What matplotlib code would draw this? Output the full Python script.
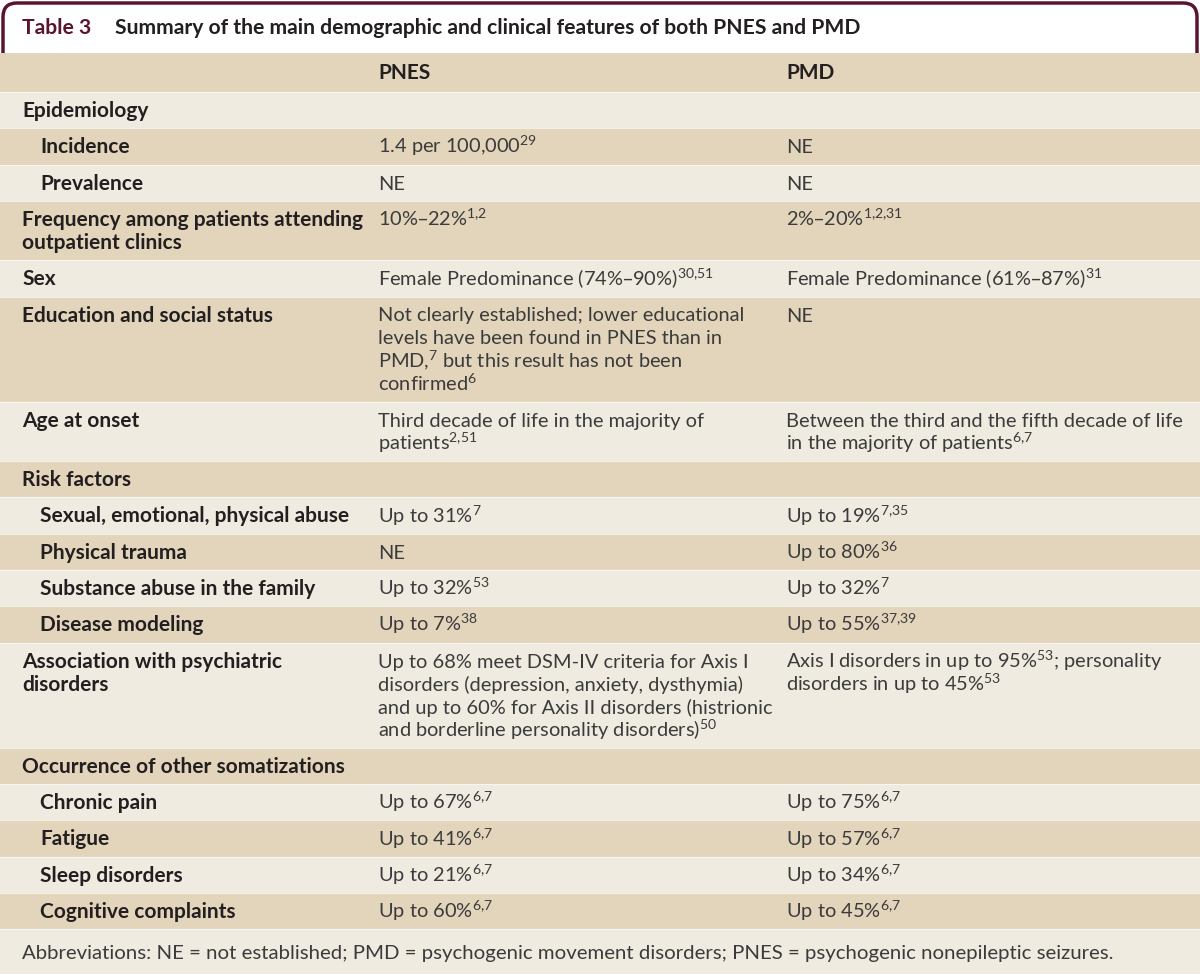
import matplotlib
matplotlib.use('Agg')
import matplotlib.pyplot as plt
from matplotlib.patches import Rectangle, FancyBboxPatch

plt.rcParams['font.family'] = ['Lato', 'DejaVu Sans']
plt.rcParams['mathtext.default'] = 'regular'

# table content
table_no = 'Table 3'
title = 'Summary of the main demographic and clinical features of both PNES and PMD'
col_heads = ['PNES', 'PMD']

labels = [
    ['Epidemiology'],
    ['Incidence'],
    ['Prevalence'],
    ['Frequency among patients attending', 'outpatient clinics'],
    ['Sex'],
    ['Education and social status'],
    ['Age at onset'],
    ['Risk factors'],
    ['Sexual, emotional, physical abuse'],
    ['Physical trauma'],
    ['Substance abuse in the family'],
    ['Disease modeling'],
    ['Association with psychiatric', 'disorders'],
    ['Occurrence of other somatizations'],
    ['Chronic pain'],
    ['Fatigue'],
    ['Sleep disorders'],
    ['Cognitive complaints'],
]
sub_row = [0, 1, 1, 0, 0, 0, 0, 0, 1, 1, 1, 1, 0, 0, 1, 1, 1, 1]

pnes = [
    [],
    ['1.4 per 100,000$^{29}$'],
    ['NE'],
    ['10%–22%$^{1{,}2}$'],
    ['Female Predominance (74%–90%)$^{30{,}51}$'],
    ['Not clearly established; lower educational',
     'levels have been found in PNES than in',
     'PMD,$^{7}$ but this result has not been',
     'confirmed$^{6}$'],
    ['Third decade of life in the majority of', 'patients$^{2{,}51}$'],
    [],
    ['Up to 31%$^{7}$'],
    ['NE'],
    ['Up to 32%$^{53}$'],
    ['Up to 7%$^{38}$'],
    ['Up to 68% meet DSM-IV criteria for Axis I',
     'disorders (depression, anxiety, dysthymia)',
     'and up to 60% for Axis II disorders (histrionic',
     'and borderline personality disorders)$^{50}$'],
    [],
    ['Up to 67%$^{6{,}7}$'],
    ['Up to 41%$^{6{,}7}$'],
    ['Up to 21%$^{6{,}7}$'],
    ['Up to 60%$^{6{,}7}$'],
]

pmd = [
    [],
    ['NE'],
    ['NE'],
    ['2%–20%$^{1{,}2{,}31}$'],
    ['Female Predominance (61%–87%)$^{31}$'],
    ['NE'],
    ['Between the third and the fifth decade of life',
     'in the majority of patients$^{6{,}7}$'],
    [],
    ['Up to 19%$^{7{,}35}$'],
    ['Up to 80%$^{36}$'],
    ['Up to 32%$^{7}$'],
    ['Up to 55%$^{37{,}39}$'],
    ['Axis I disorders in up to 95%$^{53}$; personality',
     'disorders in up to 45%$^{53}$'],
    [],
    ['Up to 75%$^{6{,}7}$'],
    ['Up to 57%$^{6{,}7}$'],
    ['Up to 34%$^{6{,}7}$'],
    ['Up to 45%$^{6{,}7}$'],
]

footnote = ('Abbreviations: NE = not established; PMD = psychogenic movement '
            'disorders; PNES = psychogenic nonepileptic seizures.')

# colours
maroon = '#5a1430'
tan = '#e2d5bb'
light = '#efebe0'
ink = '#231f20'
body = '#3b3b3b'

W, H = 1200, 974
fig = plt.figure(figsize=(12, 9.74), dpi=100)
ax = fig.add_axes([0, 0, 1, 1])
ax.set_xlim(0, W)
ax.set_ylim(H, 0)
ax.axis('off')

# title bar with rounded maroon frame
ax.add_patch(FancyBboxPatch((3, 3), W - 6, 90, boxstyle='round,pad=0,rounding_size=14',
                            fc='white', ec=maroon, lw=2.5, zorder=1))
ax.text(22, 28, table_no, color=maroon, fontsize=15.2, fontweight='bold', va='center', zorder=5)
ax.text(115, 28, title, color=ink, fontsize=15.2, fontweight='bold', va='center', zorder=5)

x_lab, x_sub, x_pnes, x_pmd = 22, 40, 378, 786
fs_lab, fs_body = 15, 14.4
line_h = 23
row_h = 36.3

# header row
ax.add_patch(Rectangle((0, 53), W, 39, fc=tan, ec='none', zorder=2))
ax.text(x_pnes, 73, col_heads[0], color=ink, fontsize=fs_lab, fontweight='bold', va='center', zorder=5)
ax.text(x_pmd, 73, col_heads[1], color=ink, fontsize=fs_lab, fontweight='bold', va='center', zorder=5)

y = 92
for i in range(len(labels)):
    n = max(len(labels[i]), len(pnes[i]), len(pmd[i]))
    h = row_h + line_h * (n - 1)
    ax.add_patch(Rectangle((0, y), W, h, fc=tan if i % 2 else light, ec='none', zorder=2))
    ax.plot([0, W], [y, y], color='white', lw=0.8, alpha=0.6, zorder=3)
    xl = x_sub if sub_row[i] else x_lab
    for k, s in enumerate(labels[i]):
        ax.text(xl, y + 25 + line_h * k, s, color=ink, fontsize=fs_lab,
                fontweight='bold', va='baseline', zorder=5)
    for k, s in enumerate(pnes[i]):
        ax.text(x_pnes, y + 25 + line_h * k, s, color=body, fontsize=fs_body,
                va='baseline', zorder=5)
    for k, s in enumerate(pmd[i]):
        ax.text(x_pmd, y + 25 + line_h * k, s, color=body, fontsize=fs_body,
                va='baseline', zorder=5)
    y += h

# footnote band
ax.add_patch(Rectangle((0, y), W, H - y, fc=light, ec='none', zorder=2))
ax.plot([0, W], [y, y], color='white', lw=0.8, alpha=0.6, zorder=3)
ax.text(22, y + 30, footnote, color=body, fontsize=14.7, va='baseline', zorder=5)

fig.savefig('out.png', dpi=100)
